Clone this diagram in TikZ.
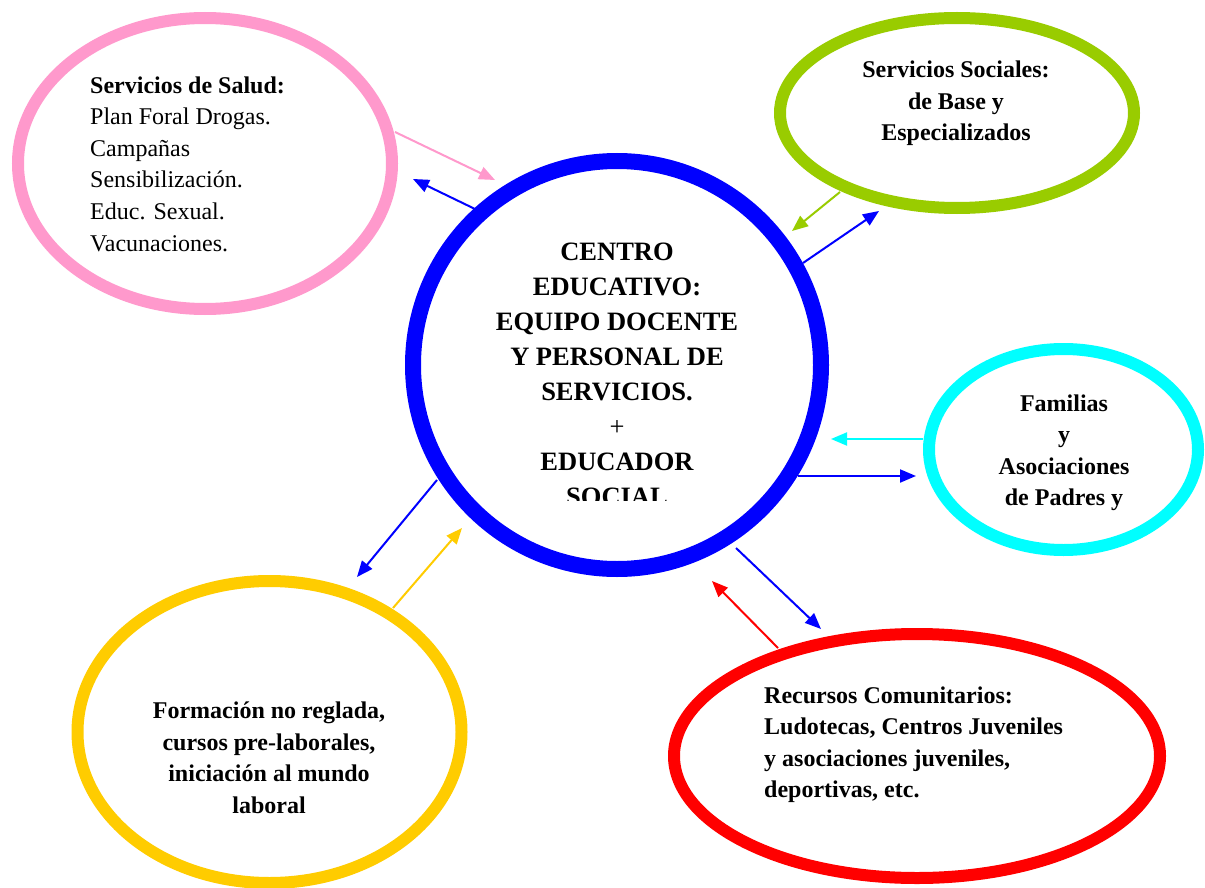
\documentclass[tikz,border=0pt]{standalone}
\usepackage{fontspec}
\setmainfont{Liberation Serif}
\usetikzlibrary{shapes.geometric,arrows.meta}
\definecolor{cblue}{HTML}{0000FF}
\definecolor{cpink}{HTML}{FF99CC}
\definecolor{cgreen}{HTML}{99CC00}
\definecolor{ccyan}{HTML}{00FFFF}
\definecolor{cyellow}{HTML}{FFCC00}
\definecolor{cred}{HTML}{FF0000}
\begin{document}
\begin{tikzpicture}[x=1pt,y=-1pt,
  ring/.style={ellipse, draw, line width=12pt, inner sep=0pt, outer sep=0pt},
  link/.style={line width=2pt, -{Triangle[length=16pt,width=13pt]}},
  lbl/.style={font=\bfseries\fontsize{24}{31.5}\selectfont, inner sep=0pt},
  lblr/.style={font=\fontsize{24}{31.6}\selectfont, inner sep=0pt}]
\useasboundingbox[fill=white] (0,0) rectangle (1205,888);

% shapes
\node[circle, draw=cblue, line width=16pt, minimum size=408pt, inner sep=0pt] (centro) at (617,365) {};
\node[ring, draw=cpink, minimum width=374pt, minimum height=291pt] (salud) at (205,163.5) {};
\node[ring, draw=cgreen, minimum width=354pt, minimum height=190pt] (sociales) at (957,113) {};
\node[ring, draw=ccyan, minimum width=269pt, minimum height=201pt] (familias) at (1063.5,449.5) {};
\node[ring, draw=cyellow, minimum width=384pt, minimum height=302pt] (formacion) at (269.5,732) {};
\node[ring, draw=cred, minimum width=486pt, minimum height=244pt] (recursos) at (917,756) {};

% texts (anchor=base is the baseline of the last line)
\begin{scope}
\clip (400,200) rectangle (830,500);
\node[font=\bfseries\fontsize{26.5}{35}\selectfont, inner sep=0pt, align=center, anchor=base] (centrotxt) at (617,505)
  {CENTRO\\EDUCATIVO:\\EQUIPO DOCENTE\\Y PERSONAL DE\\SERVICIOS.\\{\mdseries +}\\EDUCADOR\\SOCIAL};
\end{scope}
\node[lblr, align=left, anchor=base west] (saludtxt) at (90,251)
  {\textbf{Servicios de Salud:}\\Plan Foral Drogas.\\Campañas\\Sensibilización.\\Educ. Sexual.\\Vacunaciones.};
\node[lbl, align=center, anchor=base] (socialestxt) at (956,141)
  {Servicios Sociales:\\de Base y\\Especializados};
\node[lbl, align=center, anchor=base] (familiastxt) at (1064,505.5)
  {Familias\\y\\Asociaciones\\de Padres y};
\node[lbl, align=center, anchor=base] (formaciontxt) at (269,813)
  {Formación no reglada,\\cursos pre-laborales,\\iniciación al mundo\\laboral};
\node[lbl, align=left, anchor=base west] (recursostxt) at (764,797.5)
  {Recursos Comunitarios:\\Ludotecas, Centros Juveniles\\y asociaciones juveniles,\\deportivas, etc.};

% connector end points
\coordinate (s1) at (395,132);  \coordinate (s2) at (495,180);
\coordinate (s3) at (475,209);  \coordinate (s4) at (413,179);
\coordinate (g1) at (840,192);  \coordinate (g2) at (792,231);
\coordinate (g3) at (803,263);  \coordinate (g4) at (879,211);
\coordinate (f1) at (923,439);  \coordinate (f2) at (831,439);
\coordinate (f3) at (798,476);  \coordinate (f4) at (916,476);
\coordinate (r1) at (736,548);  \coordinate (r2) at (821,629);
\coordinate (r3) at (778,648);  \coordinate (r4) at (712,581);
\coordinate (y1) at (437,480);  \coordinate (y2) at (357,577);
\coordinate (y3) at (393,608);  \coordinate (y4) at (462,528);

% connectors
\draw[link, cpink] (s1) -- (s2);
\draw[link, cblue] (s3) -- (s4);
\draw[link, cgreen] (g1) -- (g2);
\draw[link, cblue] (g3) -- (g4);
\draw[link, ccyan] (f1) -- (f2);
\draw[link, cblue] (f3) -- (f4);
\draw[link, cblue] (r1) -- (r2);
\draw[link, cred] (r3) -- (r4);
\draw[link, cblue] (y1) -- (y2);
\draw[link, cyellow] (y3) -- (y4);
\end{tikzpicture}
\end{document}
